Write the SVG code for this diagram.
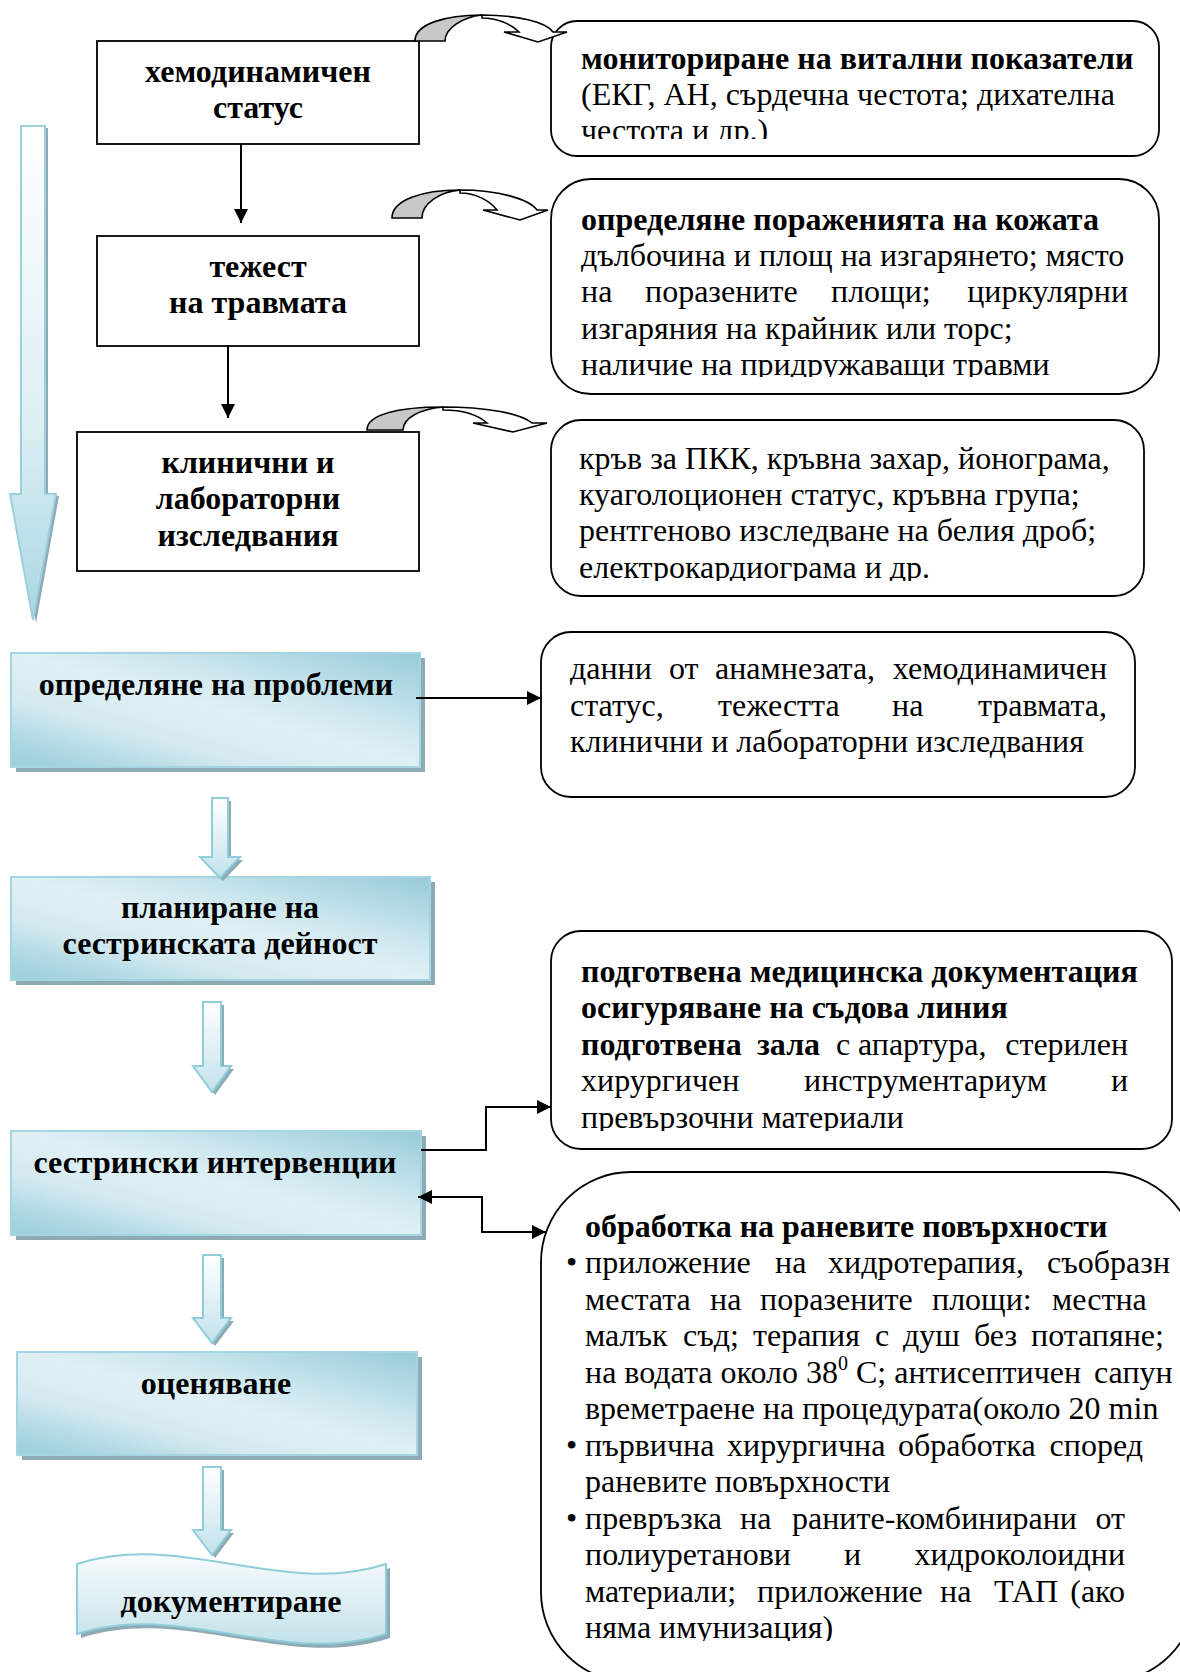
<svg xmlns="http://www.w3.org/2000/svg" width="1180" height="1672" viewBox="0 0 1180 1672">
<defs>
<style>
.t{font-family:"Liberation Serif","Times New Roman",serif;font-size:32px;fill:#000}
.b{font-weight:bold}
.c{text-anchor:middle}
.box{fill:#fff;stroke:#000;stroke-width:1.8}
.rbox{fill:#fff;stroke:#000;stroke-width:1.8}
.conn{fill:none;stroke:#000;stroke-width:2}
.gbox{fill:url(#gBox);stroke:#a4d5e0;stroke-width:2}
.shd{fill:#8eabb5}
.harrow{fill:url(#gArrow);stroke:#8fcddb;stroke-width:2}
.gray{fill:#c8c8c8;stroke:#000;stroke-width:1.6}
.white{fill:#fff;stroke:#000;stroke-width:1.6}
</style>
<linearGradient id="gBox" x1="1" y1="0" x2="0" y2="1">
<stop offset="0" stop-color="#96cbd9"/>
<stop offset="0.35" stop-color="#cfe8ef"/>
<stop offset="0.5" stop-color="#dff0f5"/>
<stop offset="0.7" stop-color="#d4eaf0"/>
<stop offset="0.9" stop-color="#a8d5e1"/>
<stop offset="1" stop-color="#9ccfdc"/>
</linearGradient>
<linearGradient id="gArrow" x1="0" y1="0" x2="0" y2="1">
<stop offset="0" stop-color="#ffffff"/>
<stop offset="1" stop-color="#c2e2eb"/>
</linearGradient>
<linearGradient id="gBig" x1="0" y1="0" x2="0" y2="1">
<stop offset="0" stop-color="#ffffff"/>
<stop offset="0.6" stop-color="#ddeff4"/>
<stop offset="1" stop-color="#a9d7e2"/>
</linearGradient>
<linearGradient id="gWave" x1="0" y1="0" x2="0" y2="1">
<stop offset="0" stop-color="#f7fbfd"/>
<stop offset="1" stop-color="#c3e2ea"/>
</linearGradient>
<marker id="arr" viewBox="0 0 14 14" refX="14" refY="7" markerWidth="14" markerHeight="14" markerUnits="userSpaceOnUse" orient="auto-start-reverse">
<path d="M0,0 L14,7 L0,14 Z" fill="#000"/>
</marker>
<clipPath id="cp1"><rect x="551" y="21" width="608" height="118"/></clipPath>
<clipPath id="cp2"><rect x="551" y="179" width="608" height="198"/></clipPath>
<clipPath id="cp3"><rect x="551" y="420" width="593" height="161"/></clipPath>
<clipPath id="cp5"><rect x="551" y="931" width="621" height="200"/></clipPath>
<clipPath id="cp6"><rect x="541" y="1172" width="700" height="469"/></clipPath>
</defs>

<!-- big left arrow -->
<g id="big-arrow">
<path class="shd" d="M24,128 H48 V496 H59 L36,623 L13,496 H24 Z"/>
<path d="M21,126 H45 V494 H56 L33,620 L10,494 H21 Z" fill="url(#gBig)" stroke="#9bd0dc" stroke-width="2"/>
</g>

<!-- left white boxes -->
<g id="n-hemo">
<rect class="box" x="97" y="41" width="322" height="103"/>
<text class="t b c" x="258" y="82">хемодинамичен</text>
<text class="t b c" x="258" y="118">статус</text>
</g>
<g id="n-severity">
<rect class="box" x="97" y="236" width="322" height="110"/>
<text class="t b c" x="258" y="277">тежест</text>
<text class="t b c" x="258" y="313">на травмата</text>
</g>
<g id="n-clinical">
<rect class="box" x="77" y="432" width="342" height="139"/>
<text class="t b c" x="248" y="473">клинични и</text>
<text class="t b c" x="248" y="509">лабораторни</text>
<text class="t b c" x="248" y="546">изследвания</text>
</g>

<!-- right rounded boxes -->
<g id="n-monitoring">
<rect class="rbox" x="551" y="21" width="608" height="135" rx="26"/>
<g clip-path="url(#cp1)">
<text class="t b" x="581" y="69">мониториране на витални показатели</text>
<text class="t" x="581" y="105">(ЕКГ, АН, сърдечна честота; дихателна</text>
<text class="t" x="581" y="141">честота и др.)</text>
</g>
</g>
<g id="n-skin">
<rect class="rbox" x="551" y="179" width="608" height="215" rx="40"/>
<g clip-path="url(#cp2)">
<text class="t b" x="581" y="230">определяне пораженията на кожата</text>
<text class="t" x="581" y="266">дълбочина и площ на изгарянето; място</text>
<text class="t" y="302"><tspan x="581">на</tspan><tspan x="645">поразените</tspan><tspan x="831">площи;</tspan><tspan x="1128" text-anchor="end">циркулярни</tspan></text>
<text class="t" x="581" y="339">изгаряния на крайник или торс;</text>
<text class="t" x="581" y="375">наличие на придружаващи травми</text>
</g>
</g>
<g id="n-lab">
<rect class="rbox" x="551" y="420" width="593" height="176" rx="30"/>
<g clip-path="url(#cp3)">
<text class="t" x="579" y="469">кръв за ПКК, кръвна захар, йонограма,</text>
<text class="t" x="579" y="505">куаголоционен статус, кръвна група;</text>
<text class="t" x="579" y="541">рентгеново изследване на белия дроб;</text>
<text class="t" x="579" y="578">електрокардиограма и др.</text>
</g>
</g>
<g id="n-data">
<rect class="rbox" x="541" y="632" width="594" height="165" rx="30"/>
<text class="t" y="679"><tspan x="570">данни</tspan><tspan x="669">от</tspan><tspan x="715">анамнезата,</tspan><tspan x="1107" text-anchor="end">хемодинамичен</tspan></text>
<text class="t" y="716"><tspan x="570">статус,</tspan><tspan x="718">тежестта</tspan><tspan x="892">на</tspan><tspan x="1107" text-anchor="end">травмата,</tspan></text>
<text class="t" x="570" y="752">клинични и лабораторни изследвания</text>
</g>
<g id="n-prep">
<rect class="rbox" x="551" y="931" width="621" height="218" rx="30"/>
<g clip-path="url(#cp5)">
<text class="t b" x="581" y="982">подготвена медицинска документация</text>
<text class="t b" x="581" y="1018">осигуряване на съдова линия</text>
<text class="t" y="1055"><tspan class="b" x="581">подготвена</tspan><tspan class="b" x="757">зала</tspan><tspan x="836">с</tspan><tspan x="858">апартура,</tspan><tspan x="1128" text-anchor="end">стерилен</tspan></text>
<text class="t" y="1091"><tspan x="581">хирургичен</tspan><tspan x="804">инструментариум</tspan><tspan x="1128" text-anchor="end">и</tspan></text>
<text class="t" x="581" y="1128">превързочни материали</text>
</g>
</g>
<g id="n-wound">
<rect class="rbox" x="541" y="1172" width="655" height="510" rx="90"/>
<g clip-path="url(#cp6)">
<text class="t b" x="585" y="1237">обработка на раневите повърхности</text>
<text class="t" y="1273"><tspan x="566">•</tspan><tspan x="585">приложение</tspan><tspan x="775">на</tspan><tspan x="828">хидротерапия,</tspan><tspan x="1047">съобразн</tspan></text>
<text class="t" y="1310"><tspan x="585">местата</tspan><tspan x="710">на</tspan><tspan x="760">поразените</tspan><tspan x="932">площи:</tspan><tspan x="1052">местна</tspan></text>
<text class="t" y="1346"><tspan x="585">малък</tspan><tspan x="683">съд;</tspan><tspan x="753">терапия</tspan><tspan x="875">с</tspan><tspan x="903">душ</tspan><tspan x="974">без</tspan><tspan x="1031">потапяне;</tspan></text>
<text class="t" x="585" y="1383">на водата около 38<tspan font-size="20" dy="-13">0</tspan><tspan dy="13"> С; антисептичен</tspan><tspan x="1094">сапун</tspan></text>
<text class="t" x="585" y="1419">времетраене на процедурата(около 20 min</text>
<text class="t" y="1456"><tspan x="566">•</tspan><tspan x="585">първична</tspan><tspan x="727">хирургична</tspan><tspan x="898">обработка</tspan><tspan x="1143" text-anchor="end">според</tspan></text>
<text class="t" x="585" y="1492">раневите повърхности</text>
<text class="t" y="1529"><tspan x="566">•</tspan><tspan x="585">превръзка</tspan><tspan x="740">на</tspan><tspan x="792">раните-комбинирани</tspan><tspan x="1125" text-anchor="end">от</tspan></text>
<text class="t" y="1565"><tspan x="585">полиуретанови</tspan><tspan x="844">и</tspan><tspan x="1125" text-anchor="end">хидроколоидни</tspan></text>
<text class="t" y="1602"><tspan x="585">материали;</tspan><tspan x="757">приложение</tspan><tspan x="940">на</tspan><tspan x="994">ТАП</tspan><tspan x="1125" text-anchor="end">(ако</tspan></text>
<text class="t" x="585" y="1638">няма имунизация)</text>
</g>
</g>

<!-- gradient process boxes -->
<g id="n-problems">
<rect class="shd" x="16" y="658" width="409" height="114"/>
<rect class="gbox" x="11" y="653" width="409" height="114"/>
<text class="t b c" x="216" y="695">определяне на проблеми</text>
</g>
<g id="n-planning">
<rect class="shd" x="16" y="882" width="419" height="103"/>
<rect class="gbox" x="11" y="877" width="419" height="103"/>
<text class="t b c" x="220" y="918">планиране на</text>
<text class="t b c" x="220" y="954">сестринската дейност</text>
</g>
<g id="n-interventions">
<rect class="shd" x="16" y="1136" width="410" height="104"/>
<rect class="gbox" x="11" y="1131" width="410" height="104"/>
<text class="t b c" x="215" y="1173">сестрински интервенции</text>
</g>
<g id="n-evaluation">
<rect class="shd" x="22" y="1357" width="400" height="103"/>
<rect class="gbox" x="17" y="1352" width="400" height="103"/>
<text class="t b c" x="216" y="1394">оценяване</text>
</g>
<g id="n-documenting">
<path class="shd" d="M81,1568 C184,1534 287,1602 390,1568 V1638 C287,1672 184,1604 81,1638 Z"/>
<path d="M77,1564 C180,1530 283,1598 386,1564 V1634 C283,1668 180,1600 77,1634 Z" fill="url(#gWave)" stroke="#8fcddb" stroke-width="2"/>
<text class="t b c" x="231" y="1612">документиране</text>
</g>

<!-- connectors -->
<g id="connectors">
<path class="conn" d="M241,144 V223" marker-end="url(#arr)"/>
<path class="conn" d="M228,346 V418" marker-end="url(#arr)"/>
<path class="conn" d="M416,698 H541" marker-end="url(#arr)"/>
<path class="conn" d="M421,1150 H486 V1107 H551" marker-end="url(#arr)"/>
<path class="conn" d="M418,1197 H482 V1232 H546" marker-start="url(#arr)" marker-end="url(#arr)"/>
<!-- curved arrows -->
<path class="gray" d="M415,41 C415,24 445,15 482,15 C463,17 445,28 445,41 Z"/>
<path class="white" d="M482,15 C517,15 546,22 553,32 L567,32 L538,42 L504,32 L519,32 C511,24 497,18 482,18 Z"/>
<path class="gray" d="M392,218 C392,200 422,190 460,190 C440,192 422,203 422,218 Z"/>
<path class="white" d="M460,190 C498,190 529,199 537,210 L548,210 L520,220 L483,210 L497,210 C490,201 476,193 460,193 Z"/>
<path class="gray" d="M367,430 C367,414 400,407 443,407 C420,409 403,418 403,430 Z"/>
<path class="white" d="M443,407 C485,407 520,413 532,423 L547,423 L513,432 L473,423 L487,423 C478,415 462,410 443,410 Z"/>
<!-- hollow block arrows -->
<path class="shd" d="M215,801 H231 V860 H243 L223,881 L203,860 H215 Z"/>
<path class="harrow" d="M212,798 H228 V857 H240 L220,878 L200,857 H212 Z"/>
<path class="shd" d="M206,1005 H224 V1069 H234 L215,1095 L196,1069 H206 Z"/>
<path class="harrow" d="M203,1002 H221 V1066 H231 L212,1092 L193,1066 H203 Z"/>
<path class="shd" d="M206,1258 H224 V1321 H234 L215,1346 L196,1321 H206 Z"/>
<path class="harrow" d="M203,1255 H221 V1318 H231 L212,1343 L193,1318 H203 Z"/>
<path class="shd" d="M206,1470 H224 V1533 H234 L215,1558 L196,1533 H206 Z"/>
<path class="harrow" d="M203,1467 H221 V1530 H231 L212,1555 L193,1530 H203 Z"/>
</g>
</svg>
